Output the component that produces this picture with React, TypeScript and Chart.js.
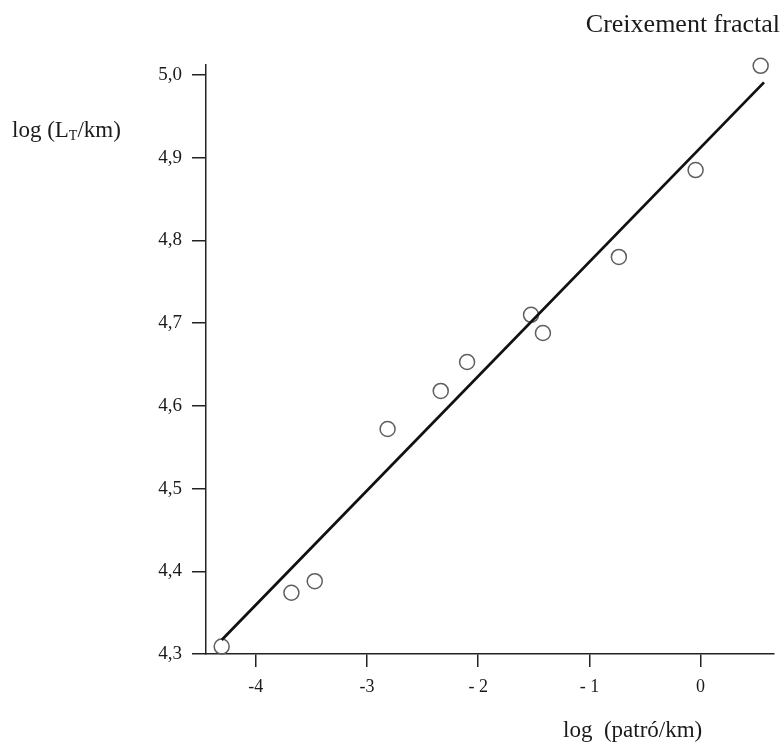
import React, { useEffect, useRef } from "react";
import { Chart, registerables } from "chart.js";

Chart.register(...registerables);

const xValues = [-4.307, -3.68, -3.47, -2.815, -2.337, -2.1, -1.525, -1.418, -0.735, -0.045, 0.54];
const yValues = [4.309, 4.374, 4.388, 4.572, 4.618, 4.653, 4.71, 4.688, 4.78, 4.885, 5.011];
const fitX = [-4.307, 0.57];
const fitY = [4.317, 4.991];
const xTicks = [-4, -3, -2, -1, 0];
const xTickLabels = ["-4", "-3", "- 2", "- 1", "0"];
const yTicks = [4.3, 4.4, 4.5, 4.6, 4.7, 4.8, 4.9, 5.0];
const yTickLabels = ["4,3", "4,4", "4,5", "4,6", "4,7", "4,8", "4,9", "5,0"];
const chartTitle = "Creixement fractal";
const xTitle = "log  (patró/km)";
const yTitleMain = "log (L";
const yTitleSub = "T";
const yTitleEnd = "/km)";

const SERIF = '"Liberation Serif", "Times New Roman", serif';

const labelsPlugin = {
  id: "labelsPlugin",
  afterDraw(chart: any) {
    const ctx = chart.ctx;
    ctx.save();
    ctx.fillStyle = "#1a1a1a";
    ctx.textBaseline = "alphabetic";
    // title
    ctx.font = `26px ${SERIF}`;
    ctx.textAlign = "right";
    ctx.fillText(chartTitle, 780, 32);
    // y title with subscript
    ctx.textAlign = "left";
    ctx.font = `23px ${SERIF}`;
    let x = 12;
    ctx.fillText(yTitleMain, x, 137);
    x += ctx.measureText(yTitleMain).width;
    ctx.font = `14px ${SERIF}`;
    ctx.fillText(yTitleSub, x, 140);
    x += ctx.measureText(yTitleSub).width;
    ctx.font = `23px ${SERIF}`;
    ctx.fillText(yTitleEnd, x, 137);
    // x title
    ctx.fillText(xTitle, 563, 737);
    ctx.restore();
  },
};

export default function App() {
  const ref = useRef<HTMLCanvasElement | null>(null);
  useEffect(() => {
    if (!ref.current) return;
    const chart = new Chart(ref.current, {
      type: "scatter",
      data: {
        datasets: [
          {
            type: "line",
            data: fitX.map((v, i) => ({ x: v, y: fitY[i] })),
            borderColor: "#111",
            borderWidth: 2.8,
            pointRadius: 0,
            fill: false,
          } as any,
          {
            data: xValues.map((v, i) => ({ x: v, y: yValues[i] })),
            pointStyle: "circle",
            pointRadius: 7.5,
            pointHoverRadius: 7.5,
            pointBorderWidth: 1.5,
            borderColor: "#5e5e5e",
            backgroundColor: "rgba(0,0,0,0)",
            clip: false,
          } as any,
        ],
      },
      options: {
        animation: false,
        responsive: false,
        devicePixelRatio: 1,
        layout: { padding: { top: 65, right: 6, left: 0, bottom: 0 } },
        plugins: { legend: { display: false }, tooltip: { enabled: false }, title: { display: false } },
        scales: {
          x: {
            type: "linear",
            min: -4.448,
            max: 0.66,
            afterBuildTicks: (axis: any) => {
              axis.ticks = xTicks.map((v) => ({ value: v }));
            },
            afterFit: (scale: any) => {
              scale.height = 89;
            },
            grid: { display: true, drawOnChartArea: false, drawTicks: true, tickLength: 13, color: "#222", lineWidth: 1.5 },
            border: { display: true, color: "#222", width: 1.5 },
            ticks: {
              font: { family: SERIF, size: 18 },
              color: "#1a1a1a",
              padding: 9,
              maxRotation: 0,
              autoSkip: false,
              callback: (v: any) => {
                const i = xTicks.indexOf(Number(v));
                return i >= 0 ? xTickLabels[i] : "";
              },
            },
          },
          y: {
            type: "linear",
            min: 4.3,
            max: 5.012,
            afterBuildTicks: (axis: any) => {
              axis.ticks = yTicks.map((v) => ({ value: v }));
            },
            afterFit: (scale: any) => {
              scale.width = 206;
            },
            grid: { display: true, drawOnChartArea: false, drawTicks: true, tickLength: 14, color: "#222", lineWidth: 1.5 },
            border: { display: true, color: "#222", width: 1.5 },
            ticks: {
              font: { family: SERIF, size: 19 },
              color: "#1a1a1a",
              padding: 10,
              autoSkip: false,
              callback: (v: any) => {
                const i = yTicks.findIndex((t) => Math.abs(t - Number(v)) < 1e-6);
                return i >= 0 ? yTickLabels[i] : "";
              },
            },
          },
        },
      } as any,
      plugins: [labelsPlugin],
    });
    return () => chart.destroy();
  }, []);
  return (
    <div style={{ position: "absolute", left: 0, top: 0, width: 783, height: 743, background: "#fff" }}>
      <canvas ref={ref} width={783} height={743} />
    </div>
  );
}
